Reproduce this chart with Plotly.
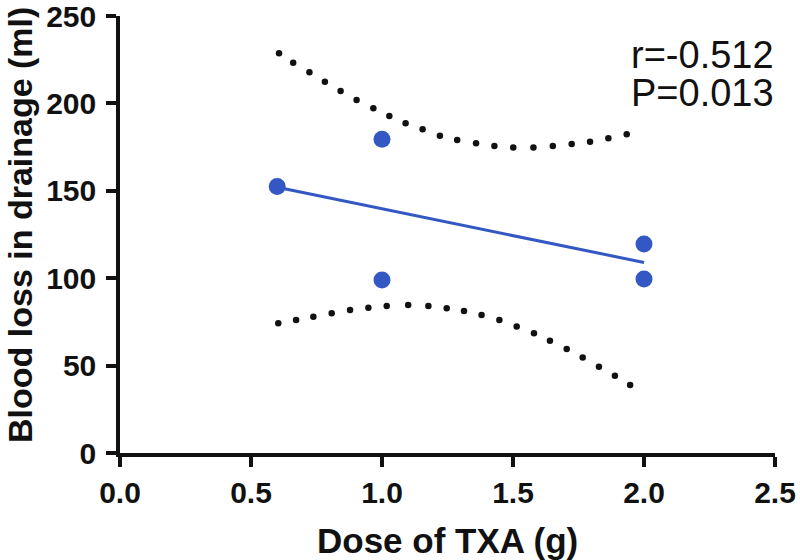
import plotly.graph_objects as go

# observed points
dose = [0.6, 1.0, 1.0, 2.0, 2.0]
blood_loss = [152.5, 179.5, 99.0, 119.5, 99.5]

# fitted line ends
fit_x = [0.6, 2.0]
fit_y = [152.0, 109.0]

# 95% band, read dot by dot
upper_x = [0.607, 0.661, 0.723, 0.782, 0.842, 0.903, 0.967, 1.028, 1.090, 1.155, 1.221,
           1.287, 1.359, 1.429, 1.501, 1.578, 1.652, 1.724, 1.794, 1.864, 1.934]
upper_y = [228.7, 223.3, 217.8, 212.4, 207.1, 201.9, 197.2, 192.8, 188.6, 185.2, 181.5,
           179.1, 177.2, 175.6, 174.7, 174.7, 175.6, 176.8, 178.1, 180.0, 182.3]
lower_x = [0.604, 0.672, 0.738, 0.808, 0.878, 0.948, 1.018, 1.100, 1.177, 1.247, 1.313,
           1.380, 1.448, 1.514, 1.580, 1.641, 1.705, 1.766, 1.828, 1.889, 1.947]
lower_y = [74.2, 76.1, 78.0, 79.9, 81.8, 83.1, 84.1, 84.7, 84.1, 82.8, 81.2,
           78.9, 76.1, 72.3, 68.5, 64.2, 59.5, 54.7, 49.4, 44.2, 38.9]

x_ticks = [0.0, 0.5, 1.0, 1.5, 2.0, 2.5]
y_ticks = [0, 50, 100, 150, 200, 250]

stats_lines = ["r=-0.512", "P=0.013"]

BLUE = "#3358c4"
INK = "#111111"
FONT = "Liberation Sans"

# plot area in page pixels, used to place the free text
L, R, T, B = 120, 775, 16, 453


def px_x(x):
    return (x - L) / (R - L)


def px_y(y):
    return (B - y) / (B - T)


fig = go.Figure()

fig.add_trace(go.Scatter(x=upper_x, y=upper_y, mode="markers",
                         marker=dict(color=INK, size=6.5)))
fig.add_trace(go.Scatter(x=lower_x, y=lower_y, mode="markers",
                         marker=dict(color=INK, size=6.5)))
fig.add_trace(go.Scatter(x=fit_x, y=fit_y, mode="lines",
                         line=dict(color=BLUE, width=3)))
fig.add_trace(go.Scatter(x=dose, y=blood_loss, mode="markers",
                         marker=dict(color=BLUE, size=17)))

axis_common = dict(
    showgrid=False, zeroline=False, showline=True, linecolor=INK, linewidth=3.5,
    ticks="outside", ticklen=10, tickwidth=3.5, tickcolor=INK,
    ticklabeloverflow="allow", automargin=False,
    tickfont=dict(family=FONT, size=30, color=INK, weight="bold"),
)

fig.update_xaxes(range=[0, 2.5], tickvals=x_ticks, ticktext=[f"{v:.1f}" for v in x_ticks],
                 **axis_common)
fig.update_yaxes(range=[0, 250], tickvals=y_ticks, ticklabelstandoff=4, **axis_common)

fig.add_annotation(text="Dose of TXA (g)", xref="paper", yref="paper",
                   x=px_x(447), y=px_y(540), xanchor="center", yanchor="middle",
                   showarrow=False,
                   font=dict(family=FONT, size=35, color=INK, weight="bold"))
fig.add_annotation(text="Blood loss in drainage (ml)", xref="paper", yref="paper",
                   x=px_x(20), y=px_y(225), xanchor="center", yanchor="middle",
                   textangle=-90, showarrow=False,
                   font=dict(family=FONT, size=34, color=INK, weight="bold"))
for line, yc in zip(stats_lines, [55, 93]):
    fig.add_annotation(text=line, xref="paper", yref="paper",
                       x=px_x(629), y=px_y(yc), xanchor="left", yanchor="middle",
                       showarrow=False,
                       font=dict(family=FONT, size=38, color=INK))

fig.update_layout(
    width=800, height=560, showlegend=False,
    margin=dict(l=L, r=800 - R, t=T, b=560 - B),
    plot_bgcolor="white", paper_bgcolor="white",
)

# page body has a default 8px margin; drop it so the figure sits at 0,0
fig.write_html("out.html", config={"displayModeBar": False},
               post_script="document.body.style.margin='0';")
